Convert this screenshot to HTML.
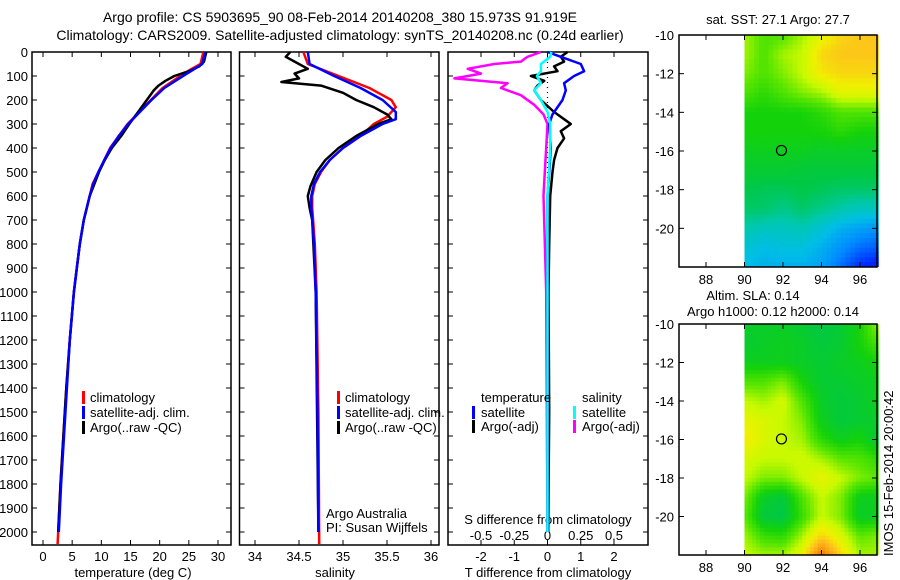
<!DOCTYPE html>
<html><head><meta charset="utf-8">
<style>
html,body{margin:0;padding:0;background:#fff;}
svg{display:block;font-family:"Liberation Sans",sans-serif;}
text{font-size:13px;fill:#000;}
</style></head>
<body>
<svg id="fig" width="900" height="580" viewBox="0 0 900 580" xmlns="http://www.w3.org/2000/svg">
<text x="340" y="22" text-anchor="middle" style="font-size:14px">Argo profile: CS 5903695_90 08-Feb-2014 20140208_380 15.973S 91.919E</text>
<text x="340" y="40" text-anchor="middle" style="font-size:14px">Climatology: CARS2009. Satellite-adjusted climatology: synTS_20140208.nc (0.24d earlier)</text>
<g id="g"></g>
</svg>
<script>
// ---- Temperature profiles ----
const tClimDepth=[0,50,70,100,150,200,250,300,350,400,450,500,550,600,700,800,900,1000,1200,1400,1600,1800,2000,2050];
const tClim=[27.5,27,25.5,23.5,20.5,18.5,16.5,14.5,13,11.5,10.5,9.5,8.5,8,7,6.3,5.8,5.3,4.6,4,3.5,3,2.6,2.5];
const tSatDepth=[0,50,70,100,150,200,250,300,350,400,450,500,550,600,700,800,900,1000,1200,1400,1600,1800,2000];
const tSat=[27.8,27.3,26,24,20.8,18.6,16.6,14.6,13,11.6,10.5,9.5,8.6,8,7,6.3,5.8,5.3,4.6,4.1,3.6,3.1,2.7];
const tArgoDepth=[0,40,60,80,100,120,140,160,200,250,300,350,400,450,500,600,700,800,1000,1200,1400,1600,1800,2000];
const tArgo=[28,27.6,26.8,25,22.5,21,19.8,19,17.8,16.3,14.8,13.4,11.8,10.6,9.6,8,7,6.3,5.3,4.6,4,3.5,3,2.6];
// ---- Salinity profiles ----
const sClimDepth=[0,50,100,150,200,230,270,300,350,400,450,500,550,600,650,700,800,1000,1500,2050];
const sClim=[34.55,34.6,34.95,35.3,35.55,35.6,35.5,35.35,35.2,35.0,34.85,34.75,34.68,34.65,34.65,34.66,34.68,34.7,34.72,34.73];
const sSatDepth=[0,50,100,150,200,250,280,300,350,400,450,500,550,600,650,700,800,1000,1500,2000];
const sSat=[34.6,34.62,34.9,35.2,35.45,35.6,35.6,35.45,35.2,35.0,34.85,34.74,34.67,34.64,34.64,34.65,34.67,34.69,34.71,34.72];
const sArgoDepth=[0,20,40,70,90,110,125,140,170,200,230,260,280,300,350,400,450,500,560,600,650,700,1000,2000];
const sArgo=[34.4,34.35,34.45,34.6,34.45,34.5,34.3,34.75,35.0,35.15,35.35,35.5,35.55,35.4,35.15,34.95,34.8,34.7,34.63,34.6,34.62,34.65,34.69,34.72];
// ---- Differences ----
const dTSatDepth=[0,20,50,80,100,130,160,200,260,300,400,500,600,1000,2000];
const dTSat=[0,0.4,1.0,1.1,0.8,0.5,0.55,0.45,0.15,0.05,0.1,0.05,0,0,0];
const dTArgoDepth=[0,20,40,60,80,100,120,140,160,200,250,280,300,330,360,400,450,500,600,800,1000,1500,2000];
const dTArgo=[0.6,0.4,0.5,0.2,0.3,-0.5,-0.1,-0.3,-0.4,-0.2,0.2,0.5,0.7,0.4,0.5,0.3,0.2,0.15,0.08,0.05,0.03,0.05,0.02];
const dSSatDepth=[0,20,50,80,100,130,160,200,250,300,400,600,2000];
const dSSat=[0.03,0.02,-0.05,-0.05,-0.08,-0.05,-0.1,-0.05,0,0.02,0.02,0,0];
const dSArgoDepth=[0,20,40,50,70,90,110,130,150,180,220,260,300,400,500,600,1000,2000];
const dSArgo=[-0.05,-0.15,-0.2,-0.4,-0.6,-0.5,-0.7,-0.3,-0.35,-0.2,-0.1,-0.03,0,-0.01,-0.02,-0.03,-0.01,0];
// ---- Maps (colour index 0..1), rows lat -10..-22, cols lon 90..97 ----
const sstGrid=[
[.6,.55,.55,.6,.65,.7,.72,.72],[.6,.55,.6,.62,.7,.72,.72,.72],[.58,.55,.58,.62,.68,.7,.7,.7],
[.55,.52,.55,.58,.6,.65,.65,.65],[.5,.5,.5,.5,.52,.55,.55,.55],[.5,.5,.5,.5,.5,.52,.5,.5],
[.48,.48,.48,.48,.47,.47,.47,.47],[.46,.46,.46,.45,.45,.45,.45,.45],[.44,.43,.43,.44,.43,.42,.42,.42],
[.42,.42,.4,.42,.4,.38,.36,.36],[.38,.36,.36,.37,.34,.3,.28,.26],[.34,.32,.33,.33,.3,.26,.22,.2],[.32,.3,.3,.3,.28,.22,.15,.12]];
const slaGrid=[
[.47,.47,.47,.46,.44,.46,.5,.6],[.46,.47,.48,.47,.45,.46,.5,.55],[.48,.48,.48,.47,.46,.47,.48,.5],
[.55,.55,.58,.5,.46,.46,.47,.48],[.62,.6,.63,.55,.47,.45,.46,.48],[.66,.64,.62,.58,.48,.45,.46,.47],
[.68,.64,.62,.6,.52,.48,.5,.45],[.64,.62,.62,.63,.6,.56,.55,.52],[.62,.58,.58,.62,.66,.62,.58,.56],
[.58,.47,.45,.55,.62,.58,.48,.48],[.56,.45,.44,.53,.62,.58,.47,.48],[.6,.53,.52,.6,.7,.64,.56,.58],[.62,.6,.6,.66,.85,.7,.6,.6]];
const depthTicks=[0,100,200,300,400,500,600,700,800,900,1000,1100,1200,1300,1400,1500,1600,1700,1800,1900,2000];
const tempTicks=[0,5,10,15,20,25,30];
const salTicks=[34,34.5,35,35.5,36];
const dTTicks=[-2,-1,0,1,2];
const dSTicks=[-0.5,-0.25,0,0.25,0.5];
const lonTicks=[88,90,92,94,96];
const latTicks=[-10,-12,-14,-16,-18,-20];

const NS="http://www.w3.org/2000/svg";
const G=document.getElementById('g');
function mk(t,a,p){const e=document.createElementNS(NS,t);for(const k in a)e.setAttribute(k,a[k]);(p||G).appendChild(e);return e;}
function lin(d0,d1,r0,r1){return v=>r0+(v-d0)*(r1-r0)/(d1-d0);}
const yD=lin(0,2000,52,532);
const TOP=52,BOT=545;

function panel(name,x0,x1){
  const r=mk('rect',{x:x0,y:TOP,width:x1-x0,height:BOT-TOP,fill:'none',stroke:'#000','stroke-width':1.5});
  
  
  depthTicks.forEach(d=>{const y=yD(d);
    mk('line',{x1:x0,x2:x0+5,y1:y,y2:y,stroke:'#000'});mk('line',{x1:x1-5,x2:x1,y1:y,y2:y,stroke:'#000'});});
}
function xTicks(xs,sc,labelY,name){
  xs.forEach(v=>{const x=sc(v);
    mk('line',{x1:x,x2:x,y1:BOT,y2:BOT-5,stroke:'#000'});mk('line',{x1:x,x2:x,y1:TOP,y2:TOP+5,stroke:'#000'});
    const t=mk('text',{x:x,y:labelY,'text-anchor':'middle'});t.textContent=String(v);
    
    });
}
function line(xs,ds,sx,col,name,w,x0,x1){
  const pts=xs.map((v,i)=>Math.max(x0,Math.min(x1,sx(v))).toFixed(1)+','+yD(ds[i]).toFixed(1)).join(' ');
  const p=mk('polyline',{points:pts,fill:'none',stroke:col,'stroke-width':w||2.5,'stroke-linejoin':'round'});
  
  
}
function txt(x,y,s,name,anchor){const t=mk('text',{x:x,y:y,'text-anchor':anchor||'start'});t.textContent=s;
  
  return t;}
function legBar(x,y,col){mk('rect',{x:x,y:y-11,width:3,height:13,fill:col});}

depthTicks.forEach(d=>{txt(28,yD(d)+5,String(d),'depth-tick-label','end');});

// Panel 1 temperature
const xT=lin(0,30,43,218);
panel('temperature-panel',32,231);
xTicks(tempTicks,xT,561,'temperature');
txt(133,577,'temperature (deg C)','temperature-axis-title','middle');
line(tClim,tClimDepth,xT,'#ff0000','temp-climatology-line',2.5,32,231);
line(tArgo,tArgoDepth,xT,'#000000','temp-argo-line',2.5,32,231);
line(tSat,tSatDepth,xT,'#0000ff','temp-satellite-line',2.5,32,231);
legBar(82,402,'#f00');txt(90,402,'climatology','legend-climatology');
legBar(82,417,'#00f');txt(90,417,'satellite-adj. clim.','legend-satellite');
legBar(82,432,'#000');txt(90,432,'Argo(..raw -QC)','legend-argo');

// Panel 2 salinity
const xS=lin(34,36,255,431);
panel('salinity-panel',239.5,439);
xTicks(salTicks,xS,561,'salinity');
txt(335,577,'salinity','salinity-axis-title','middle');
line(sClim,sClimDepth,xS,'#ff0000','sal-climatology-line',2.5,239.5,439);
line(sArgo,sArgoDepth,xS,'#000000','sal-argo-line',2.5,239.5,439);
line(sSat,sSatDepth,xS,'#0000ff','sal-satellite-line',2.5,239.5,439);
legBar(337,402,'#f00');txt(345,402,'climatology','legend-sal-climatology');
legBar(337,417,'#00f');txt(345,417,'satellite-adj. clim.','legend-sal-satellite');
legBar(337,432,'#000');txt(345,432,'Argo(..raw -QC)','legend-sal-argo');
txt(326,518,'Argo Australia','argo-australia-label');
txt(326,532,'PI: Susan Wijffels','pi-label');

// Panel 3 differences
const xDT=lin(-2,2,481,614);
const xDS=lin(-0.5,0.5,481,614);
panel('difference-panel',448,648);
xTicks(dTTicks,xDT,561,'t-diff');
dSTicks.forEach(v=>{txt(xDS(v),540,String(v),'s-diff-tick-label','middle');});
txt(548,524,'S difference from climatology','s-diff-axis-title','middle');
txt(548,577,'T difference from climatology','t-diff-axis-title','middle');
const z=mk('line',{x1:xDT(0),x2:xDT(0),y1:TOP,y2:yD(620),stroke:'#000','stroke-width':1.2,'stroke-dasharray':'1,4'});


line(dSArgo,dSArgoDepth,xDS,'#ff00ff','s-diff-argo-line',2.5,448,648);
line(dTArgo,dTArgoDepth,xDT,'#000000','t-diff-argo-line',2.5,448,648);
line(dTSat,dTSatDepth,xDT,'#0000ff','t-diff-satellite-line',2.5,448,648);
line(dSSat,dSSatDepth,xDS,'#00ffff','s-diff-satellite-line',2.5,448,648);
txt(481,402,'temperature','legend-temperature-header');
legBar(472,417,'#00f');txt(481,417,'satellite','legend-t-satellite');
legBar(472,431,'#000');txt(481,431,'Argo(-adj)','legend-t-argo');
txt(582,402,'salinity','legend-salinity-header');
legBar(573,417,'#0ff');txt(582,417,'satellite','legend-s-satellite');
legBar(573,431,'#f0f');txt(582,431,'Argo(-adj)','legend-s-argo');

// Maps
const stops=[[0,[0,0,140]],[0.15,[0,40,255]],[0.25,[0,140,255]],[0.32,[0,190,230]],[0.38,[0,200,170]],[0.44,[0,200,70]],[0.5,[20,210,10]],[0.56,[90,230,0]],[0.62,[200,250,0]],[0.67,[240,240,0]],[0.73,[255,190,30]],[0.85,[240,120,0]],[1,[180,40,0]]];
function cmap(v){for(let i=1;i<stops.length;i++){if(v<=stops[i][0]){const a=stops[i-1],b=stops[i],f=(v-a[0])/(b[0]-a[0]);
  const c=a[1].map((q,k)=>Math.round(q+(b[1][k]-q)*f));return 'rgb('+c+')';}}return 'rgb(180,40,0)';}
function interp(grid,lat,lon){const r=Math.min(11.999,Math.max(0,-10-lat)),c=Math.min(6.999,Math.max(0,lon-90));
  const r0=Math.floor(r),c0=Math.floor(c),fr=r-r0,fc=c-c0;
  return grid[r0][c0]*(1-fr)*(1-fc)+grid[r0][c0+1]*(1-fr)*fc+grid[r0+1][c0]*fr*(1-fc)+grid[r0+1][c0+1]*fr*fc;}
function map(name,top,bot,grid,step){
  const xL=lin(88,96,706,860);
  const yL=lin(-10,-20,top,top+(bot-top)*10/12);
  const grp=mk('g',{});
  
  
  for(let lat=-10;lat>-22;lat-=step){for(let lon=90;lon<96.95;lon+=step){
    const v=interp(grid,lat-step/2,lon+step/2);
    const x=xL(lon),y=yL(lat),w=xL(Math.min(lon+step,96.95))-x+0.5,h=yL(lat-step)-y+0.5;
    mk('rect',{x:x,y:y,width:w,height:Math.min(h,bot-y),fill:cmap(v)},grp);}}
  mk('rect',{x:679,y:top,width:198,height:bot-top,fill:'none',stroke:'#000','stroke-width':1.5});
  lonTicks.forEach(l=>{const x=xL(l);mk('line',{x1:x,x2:x,y1:bot,y2:bot-5,stroke:'#000'});mk('line',{x1:x,x2:x,y1:top,y2:top+5,stroke:'#000'});
    txt(x,bot+17,String(l),name+'-lon-label','middle');});
  latTicks.forEach(l=>{const y=yL(l);mk('line',{x1:679,x2:684,y1:y,y2:y,stroke:'#000'});mk('line',{x1:872,x2:877,y1:y,y2:y,stroke:'#000'});
    txt(674,y+5,String(l),name+'-lat-label','end');});
  const c=mk('circle',{cx:xL(91.92),cy:yL(-15.97),r:5,fill:'none',stroke:'#000','stroke-width':1.2});
  
  
}
map('sst-map',35,267,sstGrid,0.25);
txt(778,24,'sat. SST: 27.1  Argo: 27.7','sst-map-title','middle');
map('sla-map',324,555,slaGrid,0.2);
txt(753,300,'Altim. SLA: 0.14','sla-map-title','middle');
txt(773,316,'Argo h1000: 0.12  h2000: 0.14','sla-argo-heights','middle');
const v=mk('text',{x:0,y:0,transform:'translate(893,556) rotate(-90)','font-size':'13'});
v.textContent='IMOS 15-Feb-2014 20:00:42';


</script>
</body></html>
